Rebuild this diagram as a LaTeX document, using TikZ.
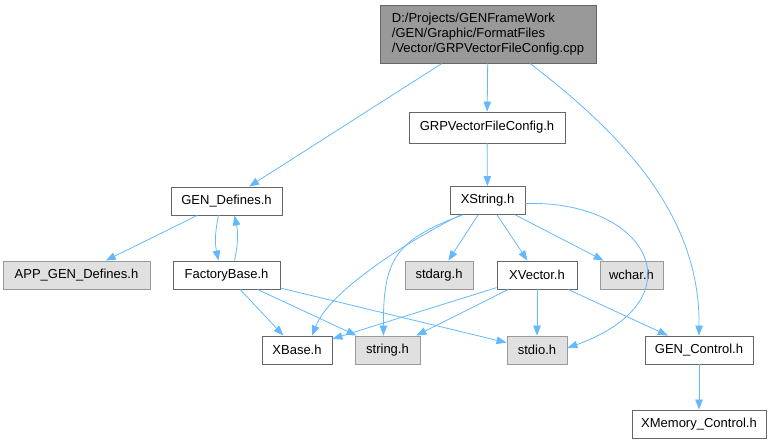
\documentclass[tikz,border=0pt]{standalone}
\usepackage{fontspec}
\setmainfont{Liberation Sans}
\usetikzlibrary{arrows.meta}
\definecolor{edgeblue}{HTML}{63B8FF}
\definecolor{boxline}{HTML}{666666}
\definecolor{sysline}{HTML}{999999}
\definecolor{sysfill}{HTML}{E0E0E0}
\begin{document}
\begin{tikzpicture}[x=1pt,y=1pt,
  file/.style={draw=boxline,line width=0.9pt,fill=white,minimum height=28pt,inner xsep=4pt,font=\fontsize{13}{15}\selectfont},
  sysfile/.style={file,draw=sysline,fill=sysfill},
  rootfile/.style={file,fill=sysline,align=left},
  inc/.style={draw=edgeblue,line width=0.8pt,-{Triangle[length=10pt,width=7.5pt]}}]
  \useasboundingbox (0,0) rectangle (773,-443);
  % nodes (pixel positions of the reference, y down)
  \node[rootfile,minimum width=216pt,minimum height=58pt] (root) at (488,-34)
    {D:/Projects/GENFrameWork\\/GEN/Graphic/FormatFiles\\/Vector/GRPVectorFileConfig.cpp};
  \node[file,minimum width=156pt,minimum height=31pt] (grpfc) at (487,-127.5) {GRPVectorFileConfig.h};
  \node[file,minimum width=111pt] (gendef) at (226.5,-201) {GEN\_Defines.h};
  \node[sysfile,minimum width=147pt] (appgen) at (76.5,-275) {APP\_GEN\_Defines.h};
  \node[file,minimum width=107pt] (factory) at (226.5,-275) {FactoryBase.h};
  \node[file,minimum width=75pt] (xstring) at (487.5,-200.5) {XString.h};
  \node[sysfile,minimum width=68pt] (stdarg) at (439,-275) {stdarg.h};
  \node[file,minimum width=80pt] (xvector) at (537,-275) {XVector.h};
  \node[sysfile,minimum width=63pt] (wchar) at (631.5,-275) {wchar.h};
  \node[file,minimum width=70pt] (xbase) at (297,-350) {XBase.h};
  \node[sysfile,minimum width=65pt] (string) at (387.5,-350) {string.h};
  \node[sysfile,minimum width=60pt] (stdio) at (537,-350) {stdio.h};
  \node[file,minimum width=108pt] (genctrl) at (699,-350) {GEN\_Control.h};
  \node[file,minimum width=134pt] (xmem) at (699,-424) {XMemory\_Control.h};
  % straight includes
  \foreach \a/\b in {root/gendef,root/grpfc,grpfc/xstring,gendef/appgen,
                     factory/xbase,factory/string,factory/stdio,
                     xstring/stdarg,xstring/xvector,xstring/wchar,
                     xvector/xbase,xvector/string,xvector/stdio,xvector/genctrl,
                     genctrl/xmem}{
    \draw[inc] (\a) -- (\b);
  }
  % curved includes
  \draw[inc] ([xshift=-8pt]gendef.south) to[bend right=12] ([xshift=-8pt]factory.north);
  \draw[inc] ([xshift=8pt]factory.north) to[bend right=12] ([xshift=8pt]gendef.south);
  \draw[inc] ([xshift=42pt]root.south) .. controls (630,-140) and (700,-220) .. (genctrl.north);
  \draw[inc] ([xshift=-27pt]xstring.south) .. controls (410,-240) and (330,-290) .. ([xshift=15pt]xbase.north);
  \draw[inc] ([xshift=-25pt]xstring.south) .. controls (395,-240) and (383,-260) .. ([xshift=-4pt]string.north);
  \draw[inc] ([yshift=-3pt]xstring.east) .. controls (650,-200) and (700,-300) .. ([yshift=2pt]stdio.east);
\end{tikzpicture}
\end{document}
